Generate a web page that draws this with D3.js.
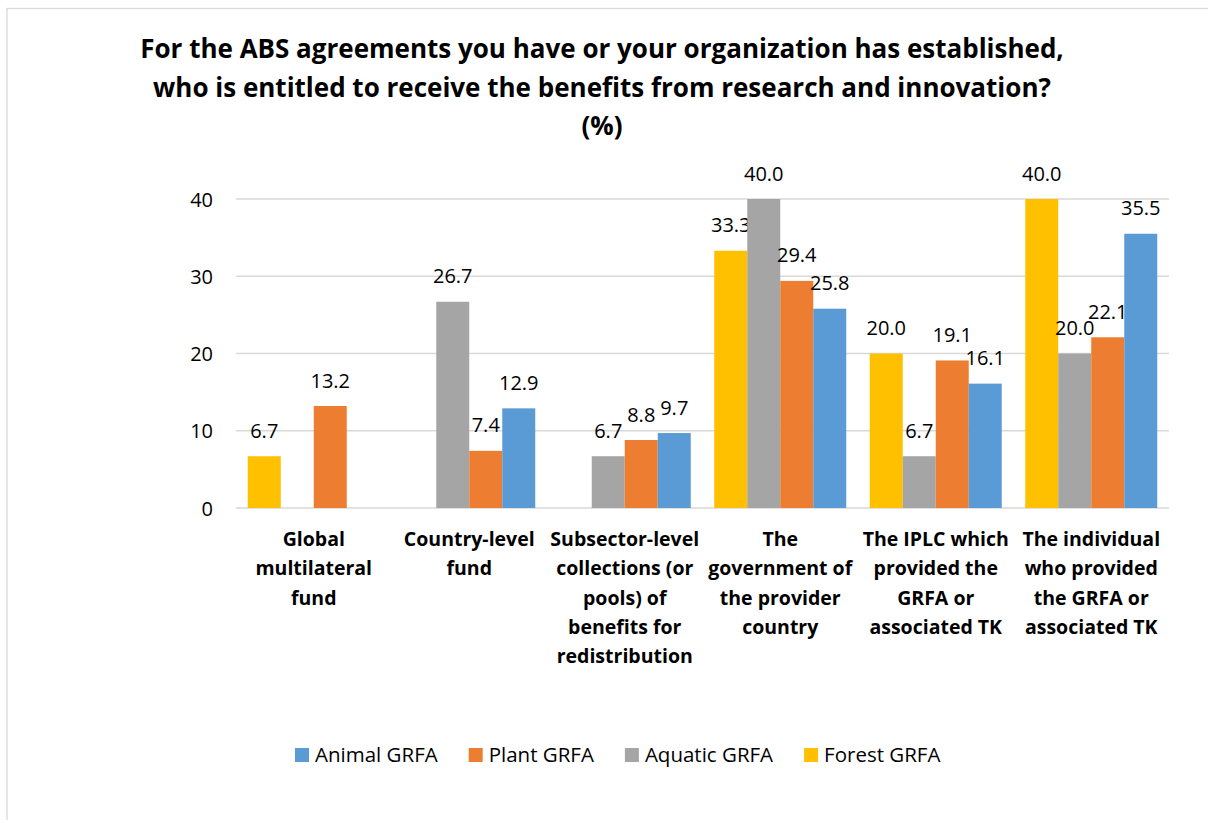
<!DOCTYPE html>
<html>
<head>
<meta charset="utf-8">
<script src="https://cdn.jsdelivr.net/npm/d3@7"></script>
<style>
    body { margin: 0; background: #fff; }
    svg { display: block; font-family: "Open Sans", Lato, sans-serif; }
</style>
</head>
<body>
<svg id="chart" width="1208" height="820"></svg>
<script>

let titleLines = [
    'For the ABS agreements you have or your organization has established,',
    'who is entitled to receive the benefits from research and innovation?',
    '(%)'
];

let categories = [
    ['Global', 'multilateral', 'fund'],
    ['Country-level', 'fund'],
    ['Subsector-level', 'collections (or', 'pools) of', 'benefits for', 'redistribution'],
    ['The', 'government of', 'the provider', 'country'],
    ['The IPLC which', 'provided the', 'GRFA or', 'associated TK'],
    ['The individual', 'who provided', 'the GRFA or', 'associated TK']
];

// null = no answer, no bar drawn
let forest  = [6.7, null, null, 33.3, 20.0, 40.0];
let aquatic = [null, 26.7, 6.7, 40.0, 6.7, 20.0];
let plant   = [13.2, 7.4, 8.8, 29.4, 19.1, 22.1];
let animal  = [null, 12.9, 9.7, 25.8, 16.1, 35.5];

let seriesNames = ['Forest GRFA', 'Aquatic GRFA', 'Plant GRFA', 'Animal GRFA'];
let seriesValues = [forest, aquatic, plant, animal];
let legendOrder = ['Animal GRFA', 'Plant GRFA', 'Aquatic GRFA', 'Forest GRFA'];

let yTicks = [0, 10, 20, 30, 40];

let colors = {
    'Forest GRFA': '#ffc000',
    'Aquatic GRFA': '#a5a5a5',
    'Plant GRFA': '#ed7d31',
    'Animal GRFA': '#5b9bd5'
};

let svg = d3.select('#chart');

let plot = {left: 236, right: 1169, top: 199, bottom: 508};

// outer frame of the chart
svg.append('rect')
    .attr('x', 7)
    .attr('y', 8.5)
    .attr('width', 1400)
    .attr('height', 1000)
    .attr('fill', 'none')
    .attr('stroke', '#d9d9d9')
    .attr('stroke-width', 1.3);

// title
svg.append('text')
    .attr('x', 602)
    .attr('y', 58)
    .attr('text-anchor', 'middle')
    .style('font-size', '26px')
    .style('font-weight', 'bold')
    .style('fill', '#000')
    .selectAll('tspan')
    .data(titleLines)
    .enter()
    .append('tspan')
    .attr('x', 602)
    .attr('dy', (d, i) => i == 0 ? 0 : 38.5)
    .text(d => d);

let x0 = d3.scaleBand()
    .domain(d3.range(categories.length))
    .range([plot.left, plot.right]);

let gap = x0.step() - 132;
let x1 = d3.scaleBand()
    .domain(seriesNames)
    .range([gap / 2, x0.step() - gap / 2]);

let y = d3.scaleLinear()
    .domain([0, 40])
    .range([plot.bottom, plot.top]);

// gridlines
svg.append('g')
    .selectAll('line')
    .data(yTicks)
    .enter()
    .append('line')
    .attr('x1', plot.left)
    .attr('x2', plot.right)
    .attr('y1', d => y(d))
    .attr('y2', d => y(d))
    .attr('stroke', '#d9d9d9')
    .attr('stroke-width', 1.5);

let yAxis = svg.append('g')
    .attr('transform', 'translate(' + (plot.left - 23) + ',0)')
    .call(d3.axisLeft(y).tickValues(yTicks).tickSize(0).tickPadding(0).tickFormat(d3.format('d')));
yAxis.select('.domain').remove();
yAxis.selectAll('text')
    .attr('dy', '0.35em')
    .style('font-family', '"Open Sans", sans-serif')
    .style('font-size', '20px')
    .style('fill', '#000');

// bars
let rows = [];
categories.forEach(function(c, ci){
    seriesNames.forEach(function(s, si){
        let v = seriesValues[si][ci];
        if(v != null)
            rows.push({cat: ci, series: s, value: v});
    });
});

let bars = svg.append('g')
    .selectAll('g')
    .data(rows)
    .enter()
    .append('g')
    .attr('transform', d => 'translate(' + (x0(d.cat) + x1(d.series)) + ',0)');

bars.append('rect')
    .attr('x', 0)
    .attr('width', x1.bandwidth())
    .attr('y', d => y(d.value))
    .attr('height', d => y(0) - y(d.value))
    .attr('fill', d => colors[d.series]);

bars.append('text')
    .attr('x', x1.bandwidth() / 2)
    .attr('y', d => y(d.value) - 18.5)
    .attr('text-anchor', 'middle')
    .style('font-size', '20px')
    .style('fill', '#000')
    .text(d => d3.format('.1f')(d.value));

// category labels
svg.append('g')
    .selectAll('text')
    .data(categories)
    .enter()
    .append('text')
    .attr('text-anchor', 'middle')
    .attr('y', 546)
    .style('font-size', '19.5px')
    .style('font-weight', 'bold')
    .style('fill', '#000')
    .each(function(lines, i){
        let cx = x0(i) + x0.bandwidth() / 2;
        d3.select(this).selectAll('tspan')
            .data(lines)
            .enter()
            .append('tspan')
            .attr('x', cx)
            .attr('dy', (d, j) => j == 0 ? 0 : 29.3)
            .text(d => d);
    });

// legend
let legend = svg.append('g').attr('transform', 'translate(295,748)');
let lx = 0;
legendOrder.forEach(function(name){
    let item = legend.append('g').attr('transform', 'translate(' + lx + ',0)');
    item.append('rect')
        .attr('width', 14)
        .attr('height', 14)
        .attr('fill', colors[name]);
    let t = item.append('text')
        .attr('x', 20)
        .attr('y', 14)
        .style('font-size', '20.5px')
        .style('fill', '#000')
        .text(name);
    lx += 20 + t.node().getComputedTextLength() + 31;
});

</script>
</body>
</html>
